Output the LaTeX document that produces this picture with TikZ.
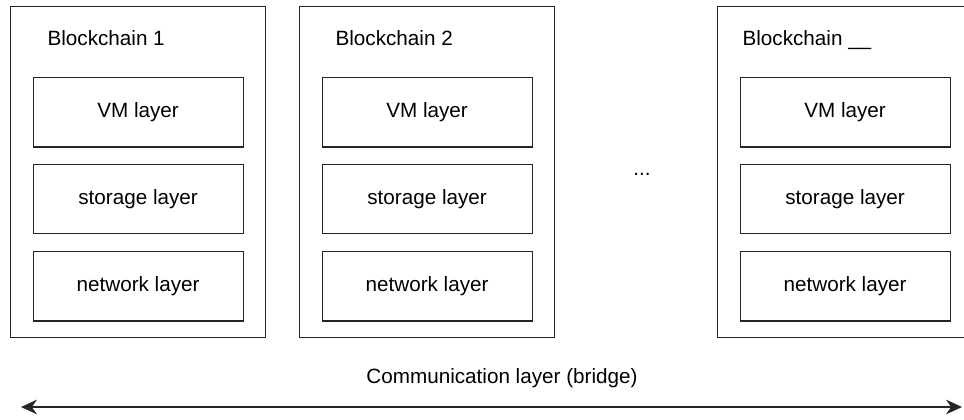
\documentclass[tikz,border=0pt]{standalone}
\usepackage{fontspec}
\setmainfont{Liberation Sans}
\usetikzlibrary{arrows.meta}
\begin{document}
\begin{tikzpicture}[x=0.75pt,y=-0.75pt,line width=0.9pt,
	font=\fontsize{15.5}{18}\selectfont,
	chainbox/.style={draw=black!85,minimum width=191.25pt,minimum height=248.25pt,anchor=north west,inner sep=0pt},
	layerbox/.style={draw=black!85,minimum width=157.5pt,minimum height=52pt,anchor=north west}]
\useasboundingbox (0,0) rectangle (964,419);
	\foreach \x/\n/\t/\d in {10/a/1/37, 299/b/2/36, 717/c/\_\_/25}{
		\node[chainbox] (\n) at (\x,6) {};
		\node[anchor=base west,inner sep=0pt] (\n-title) at (\x+\d,45) {Blockchain \t};
		\node[layerbox] (\n-vm) at (\x+22.5,77) {VM layer};
		\node[layerbox] (\n-st) at (\x+22.5,163.5) {storage layer};
		\node[layerbox] (\n-nw) at (\x+22.5,251) {network layer};
	}
\node (dots) at (642,174) {...};
\node[anchor=base] (comm) at (502,383) {Communication layer (bridge)};
\coordinate (left) at (21,407);
\coordinate (right) at (962,407);
\draw[black!85,{Stealth[length=12pt,width=11pt]}-{Stealth[length=12pt,width=11pt]}] (left) -- (right);
\end{tikzpicture}
\end{document}
